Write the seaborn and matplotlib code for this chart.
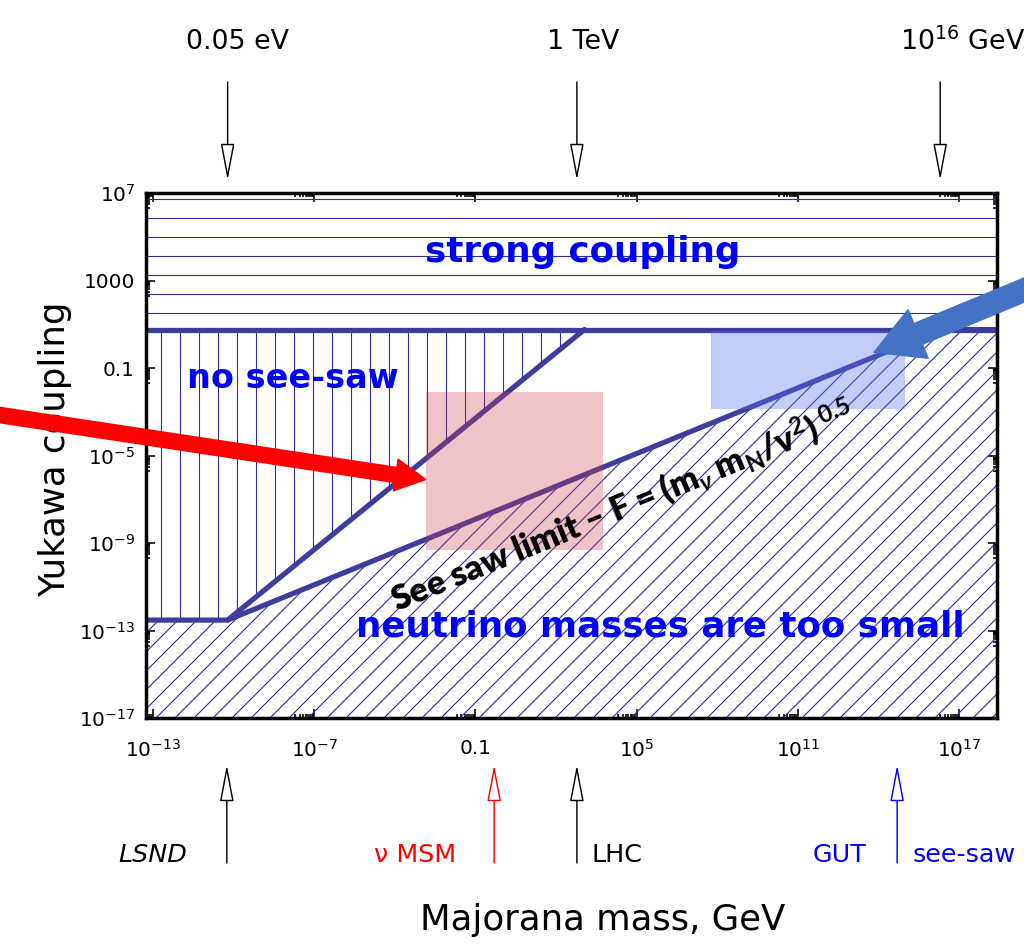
import matplotlib
matplotlib.use("Agg")
import matplotlib.pyplot as plt
import matplotlib.ticker as mticker
import seaborn as sns

# ---------------- data ----------------
XLIM = (5.5e-14, 2.6e18)
YLIM = (1e-17, 1e7)

M_KNEE = 6e-11        # 0.05 eV expressed in GeV
F_KNEE = 3e-13
M_STEEP_END = 1.15e3
M_SEESAW_END = 2.2e16
F_CAP = 5.75

steep_M = [M_KNEE, M_STEEP_END]
steep_F = [F_KNEE, F_CAP]
seesaw_M = [XLIM[0], M_KNEE, M_SEESAW_END, XLIM[1]]
seesaw_F = [F_KNEE, F_KNEE, F_CAP, F_CAP]
cap_M = [XLIM[0], XLIM[1]]
cap_F = [F_CAP, F_CAP]

nomsm_M = [1.4e-3, 5.6e3]
nomsm_F = [5e-10, 8e-3]
gutbox_M = [6e7, 1e15]
gutbox_F = [1.4e-3, 5.0]

x_ticks = [1e-13, 1e-7, 1e-1, 1e5, 1e11, 1e17]
x_ticklabels = [r"$10^{-13}$", r"$10^{-7}$", "0.1", r"$10^{5}$", r"$10^{11}$", r"$10^{17}$"]
y_ticks = [1e-17, 1e-13, 1e-9, 1e-5, 1e-1, 1e3, 1e7]
y_ticklabels = [r"$10^{-17}$", r"$10^{-13}$", r"$10^{-9}$", r"$10^{-5}$", "0.1", "1000", r"$10^{7}$"]

top_arrow_M = [6e-11, 6e2, 2e16]
top_labels = ["0.05 eV", "1 TeV", r"$10^{16}$ GeV"]
bottom_arrow_M = [5.6e-11, 0.5, 6e2, 5e14]
bottom_arrow_colors = ["black", "red", "black", "blue"]
bottom_labels = ["LSND", "ν MSM", "LHC", "GUT", "see-saw"]
bottom_label_colors = ["black", "red", "black", "blue", "blue"]

red_tip = (1.4e-3, 8e-7)
blue_tip = (7e13, 0.53)

# ---------------- style ----------------
sns.set_style("ticks")
plt.rcParams["font.family"] = ["DejaVu Sans"]
plt.rcParams["text.color"] = "black"
plt.rcParams["axes.labelcolor"] = "black"
plt.rcParams["mathtext.fontset"] = "dejavusans"
plt.rcParams["mathtext.rm"] = "Lato:bold"
plt.rcParams["mathtext.it"] = "Lato:bold:italic"
plt.rcParams["mathtext.bf"] = "Lato:bold"
plt.rcParams["hatch.linewidth"] = 0.7

LINE = "#3d3d9e"
HATCH = "#2f2f96"
DPI = 114

fig = plt.figure(figsize=(1024 / DPI, 950 / DPI), dpi=DPI)
fig.patch.set_facecolor("white")
ax = fig.add_axes([0.1426, 0.2442, 0.8310, 0.5526])
ax.set_facecolor("white")
ax.set_xscale("log")
ax.set_yscale("log")
ax.set_xlim(*XLIM)
ax.set_ylim(*YLIM)

# hatched regions
ax.fill_between(cap_M, cap_F, [YLIM[1]] * 2, facecolor="none",
                edgecolor=HATCH, hatch="-", linewidth=0, zorder=1)
ax.fill_between([XLIM[0], M_KNEE, M_STEEP_END], [F_KNEE, F_KNEE, F_CAP],
                [F_CAP] * 3, facecolor="none", edgecolor=HATCH, hatch="|",
                linewidth=0, zorder=1)
ax.fill_between(seesaw_M, [YLIM[0]] * 4, seesaw_F, facecolor="none",
                edgecolor=HATCH, hatch="//", linewidth=0, zorder=1)

# boundary lines
for mx, fy in [(cap_M, cap_F), (steep_M, steep_F), (seesaw_M, seesaw_F)]:
    sns.lineplot(x=mx, y=fy, ax=ax, color=LINE, linewidth=3.3, sort=False,
                 estimator=None, legend=False, zorder=3)

# shaded boxes
ax.fill_between(nomsm_M, [nomsm_F[0]] * 2, [nomsm_F[1]] * 2,
                color=(202 / 255, 58 / 255, 72 / 255), alpha=0.3, linewidth=0, zorder=4)
ax.fill_between(gutbox_M, [gutbox_F[0]] * 2, [gutbox_F[1]] * 2,
                color=(84 / 255, 112 / 255, 241 / 255), alpha=0.35, linewidth=0, zorder=4)

# ticks
ax.xaxis.set_major_locator(mticker.FixedLocator(x_ticks))
ax.xaxis.set_major_formatter(mticker.FixedFormatter(x_ticklabels))
ax.yaxis.set_major_locator(mticker.FixedLocator(y_ticks))
ax.yaxis.set_major_formatter(mticker.FixedFormatter(y_ticklabels))
x_minor = [k * t / 10 for t in x_ticks for k in range(2, 10)]
y_minor = [k * t / 10 for t in y_ticks for k in range(2, 10)]
ax.xaxis.set_minor_locator(mticker.FixedLocator(x_minor))
ax.yaxis.set_minor_locator(mticker.FixedLocator(y_minor))
ax.xaxis.set_minor_formatter(mticker.NullFormatter())
ax.yaxis.set_minor_formatter(mticker.NullFormatter())
ax.tick_params(which="both", direction="in", top=True, right=True,
               colors="black", labelsize=12.6, width=1)
ax.tick_params(which="major", length=5.5)
ax.tick_params(which="minor", length=2.5)
ax.tick_params(axis="x", pad=13)
ax.tick_params(axis="y", pad=7)
for s in ax.spines.values():
    s.set_linewidth(2.2)
    s.set_color("black")
    s.set_zorder(6)

ax.set_xlabel("Majorana mass, GeV", fontsize=22.4, color="black")
ax.set_ylabel("Yukawa coupling", fontsize=22.4, color="black")
ax.xaxis.set_label_coords(0.537, -0.352)
ax.yaxis.set_label_coords(-0.087, 0.512)

# region labels
bold_blue = dict(color="#0000ff", fontweight="bold", zorder=5)
ax.text(1e3, 2e4, "strong coupling", ha="center", va="center", fontsize=22.5, **bold_blue)
ax.text(1.9e-12, 0.035, "no see-saw", ha="left", va="center", fontsize=21.2, **bold_blue)
ax.text(7.4e5, 1.6e-13, "neutrino masses are too small", ha="center",
        va="center", fontsize=22.5, **bold_blue)
ax.text(3.1e4, 4.6e-8,
        r"See saw limit – F = (m$_\nu$ m$_\mathrm{N}$/v$^2$)$^{\ 0.5}$",
        rotation=22.3, rotation_mode="anchor", ha="center", va="center",
        fontsize=21.5, fontweight="heavy", family=["Lato", "DejaVu Sans"],
        math_fontfamily="custom", color="black", zorder=5)

# big pointer arrows
ax.annotate("", xy=red_tip, xycoords="data", xytext=(-40, 541),
            textcoords="figure pixels", annotation_clip=False,
            arrowprops=dict(arrowstyle="simple,head_length=1.9,head_width=2.0,tail_width=0.95",
                            color="#ff0000", mutation_scale=10, shrinkA=0, shrinkB=0),
            zorder=7)
ax.annotate("", xy=blue_tip, xycoords="data", xytext=(1075, 681),
            textcoords="figure pixels", annotation_clip=False,
            arrowprops=dict(arrowstyle="simple,head_length=3.0,head_width=3.3,tail_width=1.4",
                            color="#4472c4", mutation_scale=10, shrinkA=0, shrinkB=0),
            zorder=7)

# top scale arrows
for m in top_arrow_M:
    ax.annotate("", xy=(m, 770), xycoords=("data", "figure pixels"),
                xytext=(m, 868), textcoords=("data", "figure pixels"),
                annotation_clip=False,
                arrowprops=dict(arrowstyle="-|>,head_length=1.0,head_width=0.19",
                                fc="white", ec="black", lw=0.9,
                                mutation_scale=20, shrinkA=0, shrinkB=0))
top_pos = [(237 / 1024, "center"), (583 / 1024, "center"), (900 / 1024, "left")]
for (fx, ha), lab in zip(top_pos, top_labels):
    fig.text(fx, 0.9558, lab, ha=ha, va="center", fontsize=17, color="black")

# bottom arrows
for m, c in zip(bottom_arrow_M, bottom_arrow_colors):
    ax.annotate("", xy=(m, 185), xycoords=("data", "figure pixels"),
                xytext=(m, 87), textcoords=("data", "figure pixels"),
                annotation_clip=False,
                arrowprops=dict(arrowstyle="-|>,head_length=1.0,head_width=0.19",
                                fc="white", ec=c, lw=0.9,
                                mutation_scale=20, shrinkA=0, shrinkB=0))
bottom_pos = [(187, "right"), (456, "right"), (592, "left"), (866, "right"), (913, "left")]
for (px, ha), lab, c in zip(bottom_pos, bottom_labels, bottom_label_colors):
    fig.text(px / 1024, 0.1, lab, ha=ha, va="center", fontsize=16, color=c,
             style="italic" if lab == "LSND" else "normal")

fig.savefig("out.png", dpi=DPI)
